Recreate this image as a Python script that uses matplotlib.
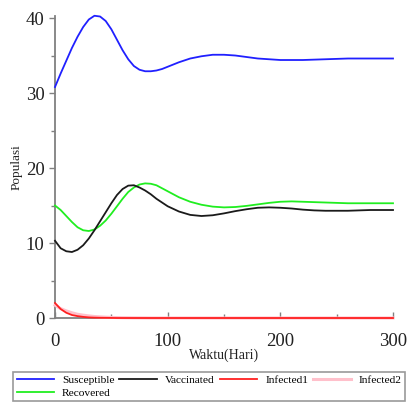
import matplotlib
matplotlib.use("Agg")
import matplotlib.pyplot as plt
from matplotlib.ticker import MultipleLocator

t = [0, 5, 10, 15, 20, 25, 30, 35, 40, 45, 50, 55, 60, 65, 70, 75, 80, 85, 90, 95, 100,
     110, 120, 130, 140, 150, 160, 170, 180, 190, 200, 210, 220, 230, 240, 250, 260, 270, 280, 290, 300]

susceptible = [30.8, 32.6, 34.3, 36.0, 37.5, 38.8, 39.8, 40.3, 40.2, 39.6, 38.5, 37.1, 35.7, 34.5, 33.6,
               33.1, 32.9, 32.9, 33.0, 33.2, 33.5,
               34.1, 34.6, 34.9, 35.1, 35.1, 35.0, 34.8, 34.6, 34.5, 34.4, 34.4, 34.4, 34.45, 34.5, 34.55,
               34.6, 34.6, 34.6, 34.6, 34.6]
vaccinated = [10.3, 9.3, 8.9, 8.8, 9.1, 9.7, 10.6, 11.7, 12.9, 14.1, 15.3, 16.4, 17.2, 17.65, 17.7,
              17.4, 17.0, 16.5, 15.9, 15.4, 14.9,
              14.2, 13.75, 13.6, 13.7, 13.95, 14.25, 14.5, 14.7, 14.75, 14.7, 14.6, 14.45, 14.35, 14.3, 14.3,
              14.3, 14.35, 14.4, 14.4, 14.4]
infected1 = [2.0, 1.2, 0.7, 0.4, 0.25, 0.15, 0.08, 0.05, 0.03, 0.02, 0.01, 0.0, 0.0, 0.0, 0.0,
             0.0, 0.0, 0.0, 0.0, 0.0, 0.0,
             0.0, 0.0, 0.0, 0.0, 0.0, 0.0, 0.0, 0.0, 0.0, 0.0, 0.0, 0.0, 0.0, 0.0, 0.0,
             0.0, 0.0, 0.0, 0.0, 0.0]
infected2 = [1.7, 1.25, 0.95, 0.7, 0.5, 0.38, 0.28, 0.2, 0.15, 0.11, 0.08, 0.06, 0.04, 0.03, 0.02,
             0.015, 0.01, 0.0, 0.0, 0.0, 0.0,
             0.0, 0.0, 0.0, 0.0, 0.0, 0.0, 0.0, 0.0, 0.0, 0.0, 0.0, 0.0, 0.0, 0.0, 0.0,
             0.0, 0.0, 0.0, 0.0, 0.0]
recovered = [15.0, 14.4, 13.6, 12.8, 12.1, 11.7, 11.6, 11.8, 12.3, 13.0, 13.9, 14.9, 15.9, 16.8, 17.4,
             17.8, 17.95, 17.9, 17.7, 17.3, 16.9,
             16.1, 15.5, 15.1, 14.85, 14.75, 14.8, 14.95, 15.15, 15.35, 15.5, 15.55, 15.5, 15.45, 15.4, 15.35,
             15.3, 15.3, 15.3, 15.3, 15.3]

names = ["Susceptible", "Vaccinated", "Infected1", "Infected2", "Recovered"]
colors = ["#2020ff", "#1a1a1a", "#ff2020", "#ffc0cb", "#20ee20"]

plt.rcParams["font.family"] = ["Liberation Serif", "DejaVu Serif"]

fig = plt.figure(figsize=(4.09, 4.03), dpi=100)
ax = fig.add_axes([0.1345, 0.2109, 0.8264, 0.75])

series = [susceptible, vaccinated, infected1, infected2, recovered]
order = [4, 3, 2, 1, 0]
handles = [None] * 5
for i in order:
    lw = 2.2 if i == 3 else 1.3
    (h,) = ax.plot(t, series[i], color=colors[i], lw=lw, clip_on=False, zorder=3 + (5 - i))
    handles[i] = h

ax.set_xlim(0, 300)
ax.set_ylim(0, 40.3)
for s in ["top", "right"]:
    ax.spines[s].set_visible(False)
for s in ["left", "bottom"]:
    ax.spines[s].set_color("#808080")
    ax.spines[s].set_linewidth(1.3)

ax.xaxis.set_major_locator(MultipleLocator(100))
ax.xaxis.set_minor_locator(MultipleLocator(50))
ax.yaxis.set_major_locator(MultipleLocator(10))
ax.yaxis.set_minor_locator(MultipleLocator(5))
ax.tick_params(axis="both", which="major", labelsize=13.5, color="#808080", width=1.0,
               length=4, labelcolor="#222222")
ax.tick_params(axis="both", which="minor", color="#808080", width=1.0, length=3)
ax.tick_params(axis="x", which="both", direction="in")
ax.tick_params(axis="x", which="major", pad=11)

ax.set_xlabel("Waktu(Hari)", fontsize=10, labelpad=-1, color="#222222")
ax.set_ylabel("Populasi", fontsize=9.5, labelpad=2, color="#222222")

# column-major fill so the rows read: S, V, I1, I2 / R
leg_order = [0, 4, 1, 2, 3]
leg = fig.legend([handles[k] for k in leg_order], [names[k] for k in leg_order],
                 loc="upper left", ncol=4, mode="expand",
                 bbox_to_anchor=(0.032, -0.02, 0.958, 0.097),
                 fontsize=8.2, frameon=True, fancybox=False, handlelength=3.3,
                 handletextpad=0.7, borderpad=0.3, labelspacing=0.2, borderaxespad=0.0)
leg.get_frame().set_edgecolor("#808080")
leg.get_frame().set_linewidth(1.2)

fig.savefig("out.png", dpi=100)
